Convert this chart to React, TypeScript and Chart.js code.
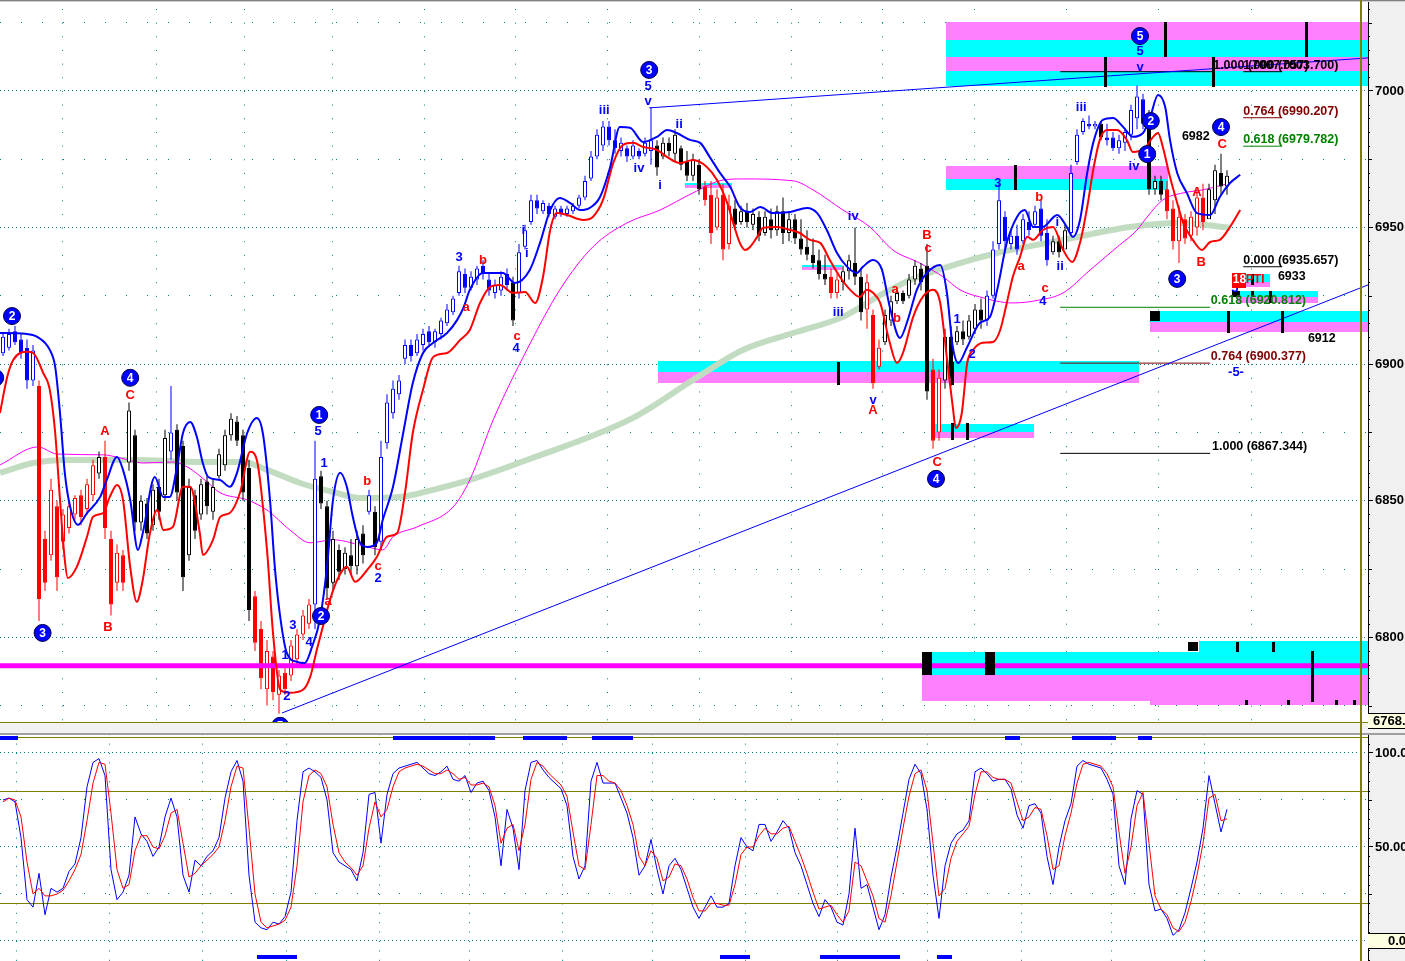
import React, { useEffect, useRef } from 'react';
import { Chart, registerables } from 'chart.js';
Chart.register(...registerables);

// ---------------- data ----------------
// candles, one per bar index 0..204
const candleHigh = [6911,6913,6914,6911,6909,6907,6894,6839,6858,6850,
 6847,6850,6852,6854,6858,6865,6868,6872,6839,6834,
 6832,6886,6876,6852,6851,6856,6858,6876,6892,6878,
 6872,6858,6854,6858,6859,6858,6869,6876,6882,6881,
 6876,6865,6817,6806,6799,6795,6788,6790,6799,6803,
 6810,6814,6872,6861,6850,6839,6834,6833,6836,6839,
 6841,6854,6848,6872,6889,6894,6896,6909,6909,6911,
 6913,6914,6913,6917,6922,6925,6936,6935,6934,6936,
 6938,6933,6931,6934,6935,6932,6944,6951,6962,6962,
 6960,6959,6958,6958,6958,6959,6962,6969,6978,6986,
 6989,6989,6986,6983,6980,6982,6979,6983,6994,6982,
 6983,6983,6986,6980,6978,6977,6975,6967,6967,6964,
 6966,6962,6960,6958,6959,6957,6956,6956,6957,6958,
 6961,6956,6955,6953,6949,6946,6942,6940,6935,6933,
 6936,6940,6950,6935,6933,6920,6909,6920,6925,6927,
 6927,6933,6938,6937,6944,6902,6898,6913,6914,6914,
 6916,6918,6922,6924,6927,6945,6966,6956,6949,6951,
 6955,6956,6958,6960,6953,6947,6947,6951,6973,6986,
 6990,6991,6989,6989,6988,6985,6984,6986,6995,7002,
 6999,6993,6969,6969,6967,6960,6958,6955,6956,6964,
 6966,6966,6973,6977,6971];
const candleLow = [6903,6905,6907,6902,6891,6892,6806,6817,6828,6817,
 6832,6838,6843,6841,6845,6850,6858,6836,6808,6817,
 6817,6861,6839,6839,6836,6839,6843,6850,6865,6850,
 6817,6828,6836,6843,6845,6843,6858,6861,6872,6870,
 6850,6806,6795,6781,6775,6777,6772,6779,6784,6790,
 6799,6803,6803,6847,6814,6817,6821,6823,6823,6823,
 6827,6845,6830,6832,6869,6880,6887,6900,6901,6903,
 6905,6907,6906,6909,6914,6918,6925,6926,6927,6929,
 6931,6925,6924,6925,6927,6914,6924,6942,6951,6955,
 6955,6954,6953,6954,6954,6955,6957,6960,6967,6975,
 6978,6980,6977,6976,6974,6975,6975,6976,6973,6969,
 6975,6976,6974,6971,6967,6967,6962,6958,6944,6949,
 6938,6942,6949,6951,6950,6949,6945,6947,6946,6947,
 6944,6945,6944,6940,6938,6935,6931,6929,6924,6924,
 6927,6931,6929,6916,6913,6891,6898,6907,6914,6922,
 6922,6924,6929,6927,6887,6869,6872,6891,6892,6907,
 6907,6909,6911,6913,6914,6924,6942,6942,6942,6940,
 6944,6947,6950,6945,6936,6940,6939,6944,6947,6973,
 6984,6986,6986,6982,6980,6978,6977,6978,6982,6986,
 6986,6962,6962,6960,6953,6942,6937,6944,6945,6947,
 6949,6955,6955,6962,6962];
const candleOpen = [6904,6906,6912,6909,6906,6894,6892,6836,6830,6848,
 6835,6840,6845,6852,6847,6852,6860,6866,6836,6820,
 6830,6864,6874,6842,6849,6841,6855,6852,6868,6876,
 6870,6830,6852,6845,6857,6846,6859,6863,6874,6879,
 6874,6862,6815,6803,6781,6793,6779,6787,6786,6792,
 6801,6805,6812,6859,6848,6820,6832,6825,6830,6826,
 6838,6846,6846,6835,6871,6882,6889,6902,6907,6904,
 6907,6912,6908,6911,6915,6919,6926,6933,6928,6931,
 6936,6931,6926,6927,6933,6930,6926,6943,6952,6960,
 6956,6958,6954,6957,6955,6956,6958,6961,6968,6976,
 6980,6987,6982,6978,6979,6976,6978,6977,6978,6980,
 6976,6981,6977,6979,6974,6969,6973,6965,6962,6950,
 6962,6944,6957,6952,6956,6951,6954,6948,6953,6949,
 6956,6948,6953,6946,6943,6940,6938,6933,6932,6926,
 6930,6934,6937,6932,6920,6918,6899,6908,6916,6923,
 6926,6925,6931,6935,6936,6898,6875,6894,6910,6908,
 6912,6910,6913,6920,6916,6925,6944,6954,6944,6947,
 6945,6952,6951,6957,6948,6941,6945,6942,6948,6974,
 6985,6988,6987,6988,6983,6983,6979,6981,6984,6990,
 6997,6990,6964,6967,6964,6957,6945,6953,6947,6950,
 6961,6953,6960,6970,6965];
const candleClose = [6910,6911,6908,6904,6894,6905,6814,6820,6854,6822,
 6845,6848,6851,6844,6856,6863,6866,6840,6812,6831,
 6820,6883,6842,6850,6838,6854,6846,6873,6875,6853,
 6822,6855,6839,6856,6848,6855,6867,6874,6880,6872,
 6853,6810,6798,6785,6795,6780,6786,6781,6797,6801,
 6808,6812,6858,6849,6818,6836,6824,6831,6826,6836,
 6830,6852,6833,6866,6886,6891,6894,6907,6903,6909,
 6911,6908,6912,6916,6920,6924,6934,6928,6932,6935,
 6933,6927,6929,6932,6929,6916,6941,6949,6960,6957,
 6959,6955,6957,6955,6957,6958,6961,6967,6976,6984,
 6987,6982,6979,6981,6976,6980,6976,6981,6982,6972,
 6981,6978,6984,6973,6969,6975,6964,6960,6948,6961,
 6942,6958,6951,6956,6952,6955,6947,6954,6949,6956,
 6948,6953,6946,6942,6940,6937,6933,6931,6926,6931,
 6934,6938,6932,6919,6930,6893,6906,6918,6923,6926,
 6923,6931,6936,6930,6890,6872,6895,6910,6895,6912,
 6909,6916,6920,6916,6925,6942,6960,6945,6947,6942,
 6953,6949,6956,6947,6938,6945,6941,6949,6970,6984,
 6989,6987,6988,6983,6982,6979,6982,6985,6993,6998,
 6988,6964,6967,6962,6956,6945,6954,6946,6954,6961,
 6952,6964,6971,6965,6969];
// colour of the candles, as runs: B blue, R red, K black
const candleColorRuns: [string, number][] = [['B',6],['R',10],['K',1],['R',4],['K',7],['B',1],['K',13],['R',10],['B',1],['K',8],['B',1],['K',1],['B',22],['K',1],['B',23],['K',8],['R',5],['K',16],['R',2],['K',4],['R',3],['K',8],['R',2],['K',7],['B',11],['K',3],['B',5],['K',1],['B',7],['K',3],['R',7],['K',4]];

// bands / averages: [bar index, price]
const blueBand: [number, number][] = [[-0.5,6911.4],[3.7,6911.1],[5.7,6910.0],[7.8,6905.2],[8.7,6899.0],[9.5,6882.1],[10.3,6860.2],[11.2,6847.7],[12.5,6841.2],[14.0,6845.5],[16.2,6851.4],[17.3,6857.6],[19.0,6866.0],[20.0,6861.3],[21.2,6850.3],[22.5,6832.0],[23.3,6838.2],[25.3,6858.7],[26.7,6851.4],[27.8,6851.4],[29.0,6862.4],[30.0,6874.8],[31.2,6878.8],[32.3,6873.4],[33.3,6863.8],[34.2,6858.7],[36.2,6857.6],[37.8,6855.1],[39.0,6860.2],[40.7,6874.8],[42.3,6880.3],[43.3,6874.8],[44.5,6850.3],[45.3,6825.8],[46.2,6807.5],[47.3,6794.3],[49.0,6791.0],[50.3,6790.6],[51.5,6796.5],[52.8,6806.4],[54.0,6825.8],[55.0,6850.3],[56.2,6860.2],[57.3,6855.1],[58.3,6844.1],[59.5,6834.6],[60.7,6833.1],[62.3,6834.6],[63.3,6843.0],[65.0,6855.1],[66.7,6874.8],[68.3,6893.1],[70.0,6904.1],[71.7,6907.8],[74.0,6911.4],[75.7,6916.2],[76.8,6921.0],[77.8,6927.2],[80.0,6933.4],[83.3,6933.4],[85.3,6929.7],[87.8,6934.5],[89.5,6944.4],[91.2,6956.4],[92.8,6960.8],[94.5,6959.0],[96.2,6956.4],[97.8,6957.2],[99.5,6961.2],[101.2,6972.2],[102.8,6986.8],[104.5,6986.5],[106.7,6981.3],[109.0,6983.2],[110.7,6985.7],[112.3,6984.6],[114.5,6982.1],[116.2,6981.0],[117.8,6975.8],[119.5,6970.0],[121.2,6964.9],[122.8,6957.5],[124.5,6955.7],[126.2,6957.5],[128.3,6955.3],[131.2,6955.7],[134.0,6957.2],[135.7,6955.3],[137.3,6949.1],[139.0,6940.7],[140.7,6935.6],[142.3,6933.4],[143.3,6935.6],[145.0,6938.1],[146.5,6934.5],[147.8,6920.9],[149.5,6909.6],[150.8,6916.2],[152.3,6927.2],[154.0,6933.4],[156.2,6936.3],[157.3,6926.4],[158.3,6906.3],[159.2,6900.4],[160.7,6906.3],[162.8,6915.1],[164.5,6917.3],[165.7,6927.2],[167.3,6944.4],[169.0,6953.9],[170.3,6956.4],[171.7,6950.2],[173.3,6950.2],[175.7,6954.6],[177.3,6950.2],[178.3,6946.6],[179.5,6952.8],[180.7,6970.0],[181.7,6981.0],[183.3,6989.4],[185.0,6990.1],[186.7,6986.8],[188.3,6983.2],[190.0,6984.6],[191.2,6990.5],[192.5,6998.5],[193.7,6994.1],[194.5,6982.1],[195.7,6970.0],[197.3,6962.7],[199.0,6955.3],[201.2,6954.6],[202.8,6961.2],[204.5,6966.3],[206.2,6969.3]];
const redBand: [number, number][] = [[-0.5,6882.1],[0.7,6895.3],[1.7,6901.5],[4.0,6904.5],[5.0,6904.1],[6.7,6896.8],[7.8,6890.6],[8.7,6874.8],[9.5,6850.3],[10.3,6828.3],[10.8,6821.7],[12.3,6825.8],[14.0,6836.8],[15.0,6844.1],[16.7,6845.5],[17.8,6851.4],[19.0,6855.8],[20.0,6850.3],[21.2,6825.8],[22.3,6813.0],[23.2,6819.9],[24.5,6838.2],[25.7,6846.6],[26.7,6839.3],[28.3,6840.4],[30.0,6855.1],[31.2,6855.1],[32.8,6838.2],[33.3,6830.2],[35.0,6835.7],[36.2,6844.1],[37.8,6845.5],[39.5,6852.9],[41.2,6867.9],[42.3,6864.9],[44.0,6832.0],[45.0,6801.6],[46.2,6780.8],[47.8,6779.7],[50.0,6780.8],[51.2,6785.5],[52.3,6795.4],[53.3,6803.8],[54.5,6813.7],[55.7,6821.0],[57.3,6825.8],[58.7,6820.3],[60.7,6824.7],[62.3,6829.4],[64.0,6836.8],[65.7,6838.2],[67.0,6852.9],[68.3,6874.8],[70.0,6890.6],[71.7,6902.6],[74.0,6904.1],[76.2,6908.9],[77.8,6912.5],[79.5,6922.4],[81.2,6928.3],[82.8,6929.0],[85.0,6926.1],[87.0,6926.4],[88.7,6922.4],[90.0,6931.9],[91.2,6949.1],[92.3,6955.3],[94.0,6954.6],[96.7,6952.8],[98.3,6953.9],[100.0,6960.1],[101.7,6973.6],[103.3,6980.2],[105.0,6981.0],[106.7,6979.5],[109.0,6978.4],[110.7,6975.8],[112.8,6973.6],[115.0,6974.7],[117.3,6972.2],[119.0,6967.4],[120.7,6959.0],[121.7,6951.7],[122.8,6944.4],[123.7,6941.8],[124.5,6942.9],[125.7,6946.6],[126.7,6949.9],[129.0,6950.2],[131.2,6949.1],[132.8,6948.0],[134.5,6945.5],[136.2,6944.4],[137.8,6938.1],[139.5,6931.9],[141.2,6927.2],[142.8,6924.6],[144.0,6927.2],[145.0,6926.1],[146.2,6922.4],[147.8,6907.8],[149.0,6900.4],[150.0,6904.1],[151.7,6917.3],[153.3,6924.6],[155.0,6927.2],[156.2,6922.4],[157.3,6902.6],[158.3,6884.3],[158.8,6876.6],[159.8,6882.1],[160.7,6900.4],[161.7,6905.2],[163.3,6907.8],[165.0,6908.1],[166.2,6912.5],[167.3,6922.4],[168.3,6931.9],[169.5,6939.2],[170.7,6946.6],[171.7,6945.5],[173.3,6949.1],[175.0,6950.2],[176.7,6941.8],[178.2,6937.4],[179.5,6944.4],[180.7,6957.5],[181.7,6971.1],[182.8,6982.1],[184.0,6985.7],[185.7,6985.7],[187.3,6982.1],[188.3,6977.7],[190.0,6978.4],[191.7,6983.2],[192.5,6984.6],[193.3,6979.5],[194.5,6968.5],[195.7,6959.0],[196.7,6951.7],[198.3,6945.5],[199.8,6941.8],[201.2,6944.7],[202.8,6945.5],[204.5,6950.2],[206.2,6956.4]];
const magentaAvg: [number, number][] = [[-0.5,6863.1],[5.8,6869.7],[9.0,6867.1],[16.7,6866.8],[19.5,6865.7],[23.3,6863.8],[28.3,6864.2],[30.7,6862.4],[34.0,6856.9],[36.2,6852.9],[40.7,6850.3],[44.0,6846.6],[47.8,6839.3],[51.2,6834.6],[55.0,6835.7],[60.7,6833.1],[63.3,6832.0],[65.0,6836.8],[69.0,6840.4],[75.0,6847.7],[77.8,6857.6],[81.7,6879.6],[87.3,6905.2],[92.8,6927.2],[98.3,6942.9],[104.0,6951.7],[109.5,6956.4],[115.0,6962.7],[120.0,6967.4],[123.3,6967.8],[131.7,6967.1],[135.0,6963.8],[140.0,6956.4],[144.5,6950.2],[148.3,6941.8],[152.8,6937.0],[156.7,6931.9],[159.5,6927.2],[162.8,6924.6],[168.3,6922.4],[172.8,6923.5],[176.7,6926.1],[181.2,6934.5],[185.7,6942.9],[189.0,6949.1],[190.7,6953.9],[193.3,6960.1],[196.7,6962.7],[200.0,6963.8],[203.3,6965.6],[204.5,6966.3]];
const greenAvg: [number, number][] = [[-0.5,6860.2],[5.0,6863.8],[10.7,6864.9],[21.7,6864.9],[32.8,6864.2],[40.0,6864.2],[44.0,6861.3],[49.5,6856.5],[55.0,6853.2],[59.5,6851.0],[66.2,6851.4],[71.7,6854.0],[77.8,6857.6],[87.3,6864.9],[105.0,6880.3],[115.0,6894.2],[123.3,6905.2],[131.7,6911.4],[140.0,6917.3],[145.7,6924.6],[151.2,6930.8],[159.5,6937.0],[165.7,6940.7],[176.7,6945.5],[187.8,6950.2],[196.2,6951.7],[204.5,6949.9]];
const supportLevel: [number, number][] = [[-0.5,6789.6],[227.5,6789.6]];
const trendUpper: [number, number][] = [[107.7,6993.8],[227.5,7012.1]];
const trendLower: [number, number][] = [[46.5,6772.3],[227.5,6929.0]];

// stochastic (%K blue, %D red), one per bar
const stochK = [75,76,74,55,22,18,36,14,28,26, 28,37,41,55,82,95,97,88,38,22, 26,35,66,57,53,45,50,66,76,66, 35,26,43,40,45,48,55,76,90,96, 85,35,10,7,6,10,9,13,26,64, 90,92,90,87,75,47,42,40,38,32, 47,78,79,52,78,89,92,93,94,95, 92,89,88,90,93,86,85,88,79,84, 85,80,66,40,70,60,38,80,95,96, 91,87,84,81,72,45,33,40,85,95, 84,84,84,76,68,55,35,40,54,38, 25,40,44,38,28,18,12,18,24,18, 18,20,40,55,50,48,62,62,53,58, 64,60,47,40,30,20,13,22,18,10, 8.5,25,60,28,30,18,6,14,34,50, 68,86,94,89,70,35,12,40,52,57, 59,64,90,92,89,85,86,86,81,67, 60,72,73,68,45,30,50,64,73,93, 96,94,93,92,86,78,40,30,65,80, 78,30,16,17,12,3,6,15,28,42, 60,88,73,58,70];
const stochD = [74,76,75,66,42,25,28,24,24,25, 27,32,38,46,64,84,95,94,68,38, 28,30,48,56,56,50,49,56,68,70, 52,34,36,40,43,46,50,64,82,93, 92,60,25,10,7,8,9,11,18,40, 74,88,91,89,82,62,47,42,39,35, 40,60,74,66,70,82,90,92,93,94, 93,91,89,89,91,89,86,87,83,83, 84,82,72,52,60,62,48,62,86,95, 93,89,86,83,77,58,40,38,62,88, 88,85,84,80,72,62,45,40,48,44, 32,34,41,40,33,23,16,16,20,20, 19,19,30,46,50,50,56,60,57,57, 60,61,53,45,36,26,17,18,19,14, 10,16,42,40,32,24,12,10,24,42, 60,77,89,91,80,52,24,28,44,53, 57,61,78,90,90,87,86,86,84,74, 64,66,71,70,56,38,40,56,68,84, 94,95,94,93,89,82,58,36,50,72, 79,52,24,17,14,7,5,10,21,35, 52,76,78,64,65];

// axis labels
const priceTickLabels = [6800, 6850, 6900, 6950, 7000];
const stochTickLabels: [number, string][] = [[100, '100.0'], [50, '50.00']];
const lastPriceLabel = '6768.';
const lastStochLabel = '0.0';
// vertical grid columns (bar index)
const gridColumns = [2.17, 17.67, 33.33, 47.17, 62.67, 77.67, 93.17, 108.33, 123.83, 139.0, 154.0, 169.83, 184.83, 200.33];

// zone bands: [fromBar, toBar, topPrice, bottomPrice, C=cyan / M=magenta]
const zoneBands: [number, number, number, number, string][] = [
  [157.2,227.5,7025.2,7018.7,'M'],[157.2,227.5,7018.7,7012.4,'C'],[157.2,227.5,7012.4,7007.3,'M'],[157.2,227.5,7007.3,7001.8,'C'],
  [157.2,194.2,6972.5,6967.8,'M'],[157.2,194.2,6967.8,6963.8,'C'],
  [113.7,121.5,6966.3,6965.4,'C'],[113.7,121.5,6965.4,6964.5,'M'],
  [133.2,139.8,6936.3,6935.4,'C'],[133.2,139.8,6935.4,6934.5,'M'],
  [109.2,189.3,6901.2,6897.1,'C'],[109.2,189.3,6897.1,6893.1,'M'],
  [155.3,171.8,6878.1,6875.2,'C'],[155.3,171.8,6875.2,6873.0,'M'],
  [191.2,227.5,6919.5,6915.4,'C'],[191.2,227.5,6915.4,6911.8,'M'],
  [204.8,211.2,6932.9,6930.1,'C'],[204.8,211.2,6930.1,6928.3,'M'],
  [205.8,219.2,6926.8,6924.6,'C'],[205.8,219.2,6924.6,6922.4,'M'],
  [199.3,227.5,6798.7,6794.7,'C'],[153.2,227.5,6794.7,6790.3,'C'],[153.2,227.5,6788.8,6786.2,'C'],[153.2,227.5,6786.2,6776.7,'M'],[191.2,227.5,6776.7,6775.3,'M'],
];
// black marks: [bar, topPrice, bottomPrice, widthPx]
const zoneMarks: [number, number, number, number][] = [
  [183.7,7012.4,7001.5,3],[193.7,7025.2,7012.4,3],[201.7,7012.4,7001.5,3],[217.2,7025.2,7012.4,3],
  [168.7,6972.9,6963.8,3],[139.2,6900.8,6892.4,3],[158.3,6900.8,6892.4,3],
  [158.3,6878.5,6872.3,3],[160.7,6878.5,6872.3,3],
  [204.2,6919.5,6911.4,3],[213.2,6919.5,6911.4,3],
  [208.3,6932.9,6928.9,3],[208.3,6926.8,6924.6,3],[211.2,6926.8,6922.4,3],
  [205.8,6798.3,6794.7,3],[211.7,6798.3,6794.7,3],[218.2,6795.0,6776.4,3],
  [192.0,6919.5,6915.8,10],[154.0,6794.7,6786.2,10],[164.5,6794.7,6786.2,10],[198.3,6798.3,6795.0,10],
  [205.5,6926.8,6924.6,8],[205.5,6932.9,6930.7,8],
  [207.2,6777.1,6775.3,3],[214.2,6777.1,6775.3,3],[222.2,6777.1,6775.3,3],[225.2,6777.1,6775.3,3],
];
// fibonacci levels
const fibLevels = [
  { text: '1.000 (6867.344)', price: 6867.344, color: '#000000', from: 176.2, to: 201.2, textAt: 201.5 },
  { text: '0.764 (6900.377)', price: 6900.377, color: '#800000', from: 176.2, to: 201.2, textAt: 201.3 },
  { text: '0.618 (6920.812)', price: 6920.812, color: '#008000', from: 176.2, to: 201.2, textAt: 201.3 },
  { text: '1.000 (7007.057)', price: 7007.057, color: '#000000', from: 176.2, to: 201.7, textAt: 201.7 },
  { text: '1.000 (7003.700)', price: 7007.057, color: '#000000', from: 206.7, to: 213.2, textAt: 206.7 },
  { text: '0.000 (6935.657)', price: 6935.657, color: '#000000', from: 206.7, to: 213.2, textAt: 206.7 },
  { text: '0.618 (6979.782)', price: 6979.782, color: '#008000', from: 206.7, to: 213.2, textAt: 206.7 },
  { text: '0.764 (6990.207)', price: 6990.207, color: '#800000', from: 206.7, to: 213.2, textAt: 206.7 },
];
// wave labels: [text, bar, price, R red / U blue / K black]
const waveLabels: [string, number, number, string][] = [
  ['A',17.0,6875.2,'R'],['B',17.5,6803.5,'R'],['C',21.2,6888.7,'R'],
  ['a',54.2,6813.0,'R'],['b',60.7,6856.9,'R'],['c',62.5,6825.8,'R'],
  ['a',77.2,6920.9,'R'],['b',80.0,6938.1,'R'],['c',85.7,6910.0,'R'],
  ['a',148.7,6927.2,'R'],['b',149.0,6916.9,'R'],['B',154.0,6947.3,'R'],['c',154.2,6942.2,'R'],
  ['A',145.0,6882.9,'R'],['C',155.7,6863.9,'R'],
  ['b',172.7,6961.2,'R'],['a',169.7,6935.6,'R'],['c',173.7,6927.9,'R'],
  ['A',199.0,6962.7,'R'],['B',199.7,6937.4,'R'],['C',203.2,6980.6,'R'],
  ['5',52.5,6875.2,'U'],['1',53.5,6863.8,'U'],['3',48.3,6804.2,'U'],['4',51.0,6798.0,'U'],['1',47.0,6793.2,'U'],['2',47.3,6778.2,'U'],['2',62.5,6821.4,'U'],
  ['3',76.0,6939.2,'U'],['i',86.7,6949.1,'U'],['i',87.3,6940.7,'U'],['4',85.5,6905.6,'U'],
  ['iii',100.2,6992.7,'U'],['iv',106.0,6971.8,'U'],['5',107.5,7001.5,'U'],['v',107.5,6996.3,'U'],['i',109.5,6965.6,'U'],['ii',112.7,6987.6,'U'],
  ['iv',141.7,6953.9,'U'],['iii',139.2,6919.1,'U'],['v',145.0,6886.9,'U'],
  ['1',159.0,6916.2,'U'],['2',161.5,6903.4,'U'],['3',165.8,6966.3,'U'],['i',175.7,6951.7,'U'],['ii',176.2,6935.6,'U'],['4',173.3,6922.8,'U'],
  ['iii',179.7,6993.8,'U'],['iv',188.5,6972.5,'U'],['5',189.5,7014.3,'U'],['v',189.5,7008.8,'U'],
  ['-5-',205.5,6897.1,'U'],['5',205.3,6927.9,'U'],
  ['6982',198.8,6983.2,'K'],['6933',214.8,6931.9,'K'],['6912',219.8,6909.2,'K'],
];
// circled wave degree labels: [digit, bar, price]
const waveCircles: [string, number, number][] = [
  ['2',1.5,6917.6],['3',6.6,6801.6],['4',21.2,6895.0],['1',52.7,6881.4],['2',53.0,6807.8],['5',46.2,6767.6],
  ['3',107.7,7007.7],['5',189.5,7020.1],['2',191.3,6989.0],['1',190.7,6976.9],['4',155.5,6858.0],['3',195.7,6931.2],['4',203.0,6986.8],['1',-1.3,6895.0],
];
// blue signal markers in the oscillator pane: [fromBar, toBar]
const markersTop: [number, number][] = [[-0.5,2.5],[65,82],[86.7,94],[98.2,105],[167,169.5],[178.2,185.5],[189.2,191.5]];
const markersBottom: [number, number][] = [[42.3,49],[119.5,124.5],[136.2,149.5],[155.7,158.2]];
const currentBar = 226.33;

// ---------------- styling ----------------
const FONT = '"Liberation Sans", Arial, sans-serif';
const TEAL = '#008080';
const OLIVE = '#808000';
const AXIS_W = 37;
const COLORS: Record<string, string> = { B: '#0000ff', R: '#ff0000', K: '#000000', U: '#0000ff' };

function expandRuns(): string[] {
  const out: string[] = [];
  candleColorRuns.forEach(([c, n]) => { for (let k = 0; k < n; k++) out.push(COLORS[c]); });
  return out;
}

function toXY(arr: [number, number][]) { return arr.map(([x, y]) => ({ x, y })); }

function drawAxisMinor(chart: any, step: number, minV: number, maxV: number) {
  const { ctx, chartArea: a, scales } = chart;
  ctx.save();
  ctx.fillStyle = '#000';
  for (let v = Math.ceil(minV / step) * step; v <= maxV; v += step) {
    const y = Math.round(scales.y.getPixelForValue(v));
    if (y < a.top || y > a.bottom) continue;
    if (Math.abs(v % 50) < 1e-6) continue;
    const len = Math.abs(v % 25) < 1e-6 ? 3 : 1;
    ctx.fillRect(a.right + 1, y, len, 1);
  }
  ctx.restore();
}

const topDecor = {
  id: 'topDecor',
  beforeDraw(chart: any) {
    const { ctx, chartArea: a } = chart;
    ctx.save();
    ctx.fillStyle = '#ffffff';
    ctx.fillRect(0, 0, chart.width, chart.height);
    ctx.fillStyle = '#f0f0f0';
    ctx.fillRect(a.right, 0, chart.width - a.right, a.bottom);
    ctx.restore();
  },
  beforeDatasetsDraw(chart: any) {
    const { ctx, chartArea: a, scales } = chart;
    const X = (v: number) => scales.x.getPixelForValue(v);
    const Y = (v: number) => scales.y.getPixelForValue(v);
    ctx.save();
    ctx.beginPath(); ctx.rect(a.left, a.top, a.right - a.left, a.bottom - a.top); ctx.clip();
    zoneBands.forEach(([x0, x1, p0, p1, c]) => {
      ctx.fillStyle = c === 'C' ? '#00ffff' : '#ff80ff';
      const l = Math.round(X(x0)), r = Math.round(X(x1));
      const t = Math.round(Y(p0)), b = Math.round(Y(p1));
      ctx.fillRect(l, t, r - l, b - t);
    });
    ctx.restore();
  },
  afterDatasetsDraw(chart: any) {
    const { ctx, chartArea: a, scales } = chart;
    const X = (v: number) => scales.x.getPixelForValue(v);
    const Y = (v: number) => scales.y.getPixelForValue(v);
    ctx.save();
    ctx.beginPath(); ctx.rect(a.left, a.top, a.right - a.left, a.bottom - a.top); ctx.clip();
    ctx.fillStyle = '#000';
    zoneMarks.forEach(([x, p0, p1, w]) => {
      const t = Math.round(Y(p0)), b = Math.round(Y(p1));
      ctx.fillRect(Math.round(X(x) - w / 2), t, w, b - t);
    });
    ctx.restore();
  },
  afterDraw(chart: any) {
    const { ctx, chartArea: a, scales } = chart;
    const X = (v: number) => scales.x.getPixelForValue(v);
    const Y = (v: number) => scales.y.getPixelForValue(v);
    ctx.save();
    ctx.beginPath(); ctx.rect(a.left, a.top, a.right - a.left, a.bottom - a.top); ctx.clip();
    // fib texts
    ctx.font = `bold 12.5px ${FONT}`;
    ctx.textAlign = 'left';
    ctx.textBaseline = 'alphabetic';
    fibLevels.forEach((f) => {
      ctx.fillStyle = f.color;
      ctx.fillText(f.text, X(f.textAt), Math.round(Y(f.price)) - 3);
    });
    // wave labels
    ctx.textAlign = 'center';
    ctx.textBaseline = 'middle';
    waveLabels.forEach(([t, x, p, c]) => {
      ctx.font = c === 'K' ? `bold 12.5px ${FONT}` : `bold 13px ${FONT}`;
      ctx.fillStyle = COLORS[c];
      ctx.fillText(t, X(x), Y(p));
    });
    // 18PTI tag
    ctx.fillStyle = '#ff0000';
    ctx.fillRect(Math.round(X(204.8)), Math.round(Y(6933.5)), 14, 15);
    ctx.font = `bold 12px ${FONT}`;
    ctx.fillStyle = '#ffffff';
    ctx.textAlign = 'left';
    ctx.fillText('18', X(204.8) + 1, Y(6930.8));
    ctx.fillStyle = '#ff0000';
    ctx.fillText('PTI', X(204.8) + 14, Y(6930.8));
    // circles
    waveCircles.forEach(([d, x, p]) => {
      const cx = X(x), cy = Y(p);
      ctx.beginPath();
      ctx.arc(cx, cy, 8.5, 0, Math.PI * 2);
      ctx.fillStyle = '#0000ff';
      ctx.fill();
      ctx.lineWidth = 1;
      ctx.strokeStyle = '#000040';
      ctx.stroke();
      ctx.fillStyle = '#ffffff';
      ctx.font = `bold 12px ${FONT}`;
      ctx.textAlign = 'center';
      ctx.fillText(d, cx, cy + 0.5);
    });
    ctx.restore();

    ctx.save();
    // top border
    ctx.fillStyle = '#808080';
    ctx.fillRect(0, 0, chart.width, 1);
    ctx.fillStyle = '#d0d0d0';
    ctx.fillRect(0, 1, chart.width, 1);
    // separator
    ctx.fillStyle = OLIVE;
    ctx.fillRect(0, a.bottom, a.right, 1);
    ctx.fillStyle = '#f2f2f2';
    ctx.fillRect(0, a.bottom + 1, chart.width, 10);
    ctx.fillStyle = '#a0a0a0';
    ctx.fillRect(0, a.bottom + 11, chart.width, 2);
    // current-bar line
    ctx.fillStyle = OLIVE;
    ctx.fillRect(Math.round(X(currentBar)) - 1, 0, 2, chart.height);
    ctx.restore();

    drawAxisMinor(chart, 5, 6765, 7035);

    // last price box
    ctx.save();
    ctx.fillStyle = '#ffffe1';
    ctx.fillRect(a.right, a.bottom - 9, AXIS_W, 15);
    ctx.fillStyle = '#000';
    ctx.fillRect(a.right, a.bottom - 9, AXIS_W, 1);
    ctx.fillRect(a.right, a.bottom + 6, AXIS_W, 1);
    ctx.font = `bold 13px ${FONT}`;
    ctx.textAlign = 'left';
    ctx.textBaseline = 'middle';
    ctx.fillText(lastPriceLabel, a.right + 5, a.bottom - 1);
    ctx.restore();
  },
};

const botDecor = {
  id: 'botDecor',
  beforeDraw(chart: any) {
    const { ctx, chartArea: a } = chart;
    ctx.save();
    ctx.fillStyle = '#ffffff';
    ctx.fillRect(0, 0, chart.width, chart.height);
    ctx.fillStyle = '#f0f0f0';
    ctx.fillRect(a.right, 0, chart.width - a.right, chart.height);
    ctx.restore();
  },
  beforeDatasetsDraw(chart: any) {
    const { ctx, chartArea: a, scales } = chart;
    const X = (v: number) => scales.x.getPixelForValue(v);
    const Y = (v: number) => scales.y.getPixelForValue(v);
    ctx.save();
    ctx.fillStyle = OLIVE;
    [80, 20].forEach((v) => ctx.fillRect(a.left, Math.round(Y(v)), a.right - a.left, 1));
    ctx.fillRect(a.left, a.top + 2, a.right - a.left, 1);
    ctx.fillStyle = '#0000ff';
    markersTop.forEach(([x0, x1]) => {
      const l = Math.max(a.left, Math.round(X(x0)));
      ctx.fillRect(l, a.top + 1, Math.round(X(x1)) - l, 4);
    });
    markersBottom.forEach(([x0, x1]) => {
      ctx.fillRect(Math.round(X(x0)), a.bottom - 6, Math.round(X(x1)) - Math.round(X(x0)), 4);
    });
    ctx.restore();
  },
  afterDraw(chart: any) {
    const { ctx, chartArea: a, scales } = chart;
    const X = (v: number) => scales.x.getPixelForValue(v);
    const Y = (v: number) => scales.y.getPixelForValue(v);
    ctx.save();
    ctx.fillStyle = OLIVE;
    ctx.fillRect(Math.round(X(currentBar)) - 1, 0, 2, chart.height);
    ctx.restore();
    drawAxisMinor(chart, 5, -10, 110);
    ctx.save();
    const y0 = Math.round(Y(0));
    ctx.fillStyle = '#ffffe1';
    ctx.fillRect(a.right, y0 - 8, AXIS_W, 15);
    ctx.fillStyle = '#000';
    ctx.fillRect(a.right, y0 - 8, AXIS_W, 1);
    ctx.fillRect(a.right, y0 + 7, AXIS_W, 1);
    ctx.font = `bold 13px ${FONT}`;
    ctx.textAlign = 'left';
    ctx.textBaseline = 'middle';
    ctx.fillText(lastStochLabel, a.right + 20, y0);
    ctx.restore();
  },
};

function isMult(v: number, m: number) { return Math.abs(v % m) < 1e-6; }

function topConfig(): any {
  const cols = expandRuns();
  const bars = candleHigh.map((_, i) => i);
  const lineDs = (data: [number, number][], color: string, width: number, order: number, tension = 0) => ({
    type: 'line', data: toXY(data), borderColor: color, borderWidth: width, pointRadius: 0,
    tension, cubicInterpolationMode: tension ? 'monotone' : 'default', order, fill: false,
  });
  const fibDs = fibLevels.map((f) => lineDs([[f.from, f.price], [f.to, f.price]], f.color, 1, 0));
  return {
    type: 'line',
    data: {
      datasets: [
        lineDs(trendUpper, '#0000ff', 1, 0),
        lineDs(trendLower, '#0000ff', 1, 0),
        ...fibDs,
        lineDs(blueBand, '#0000ff', 2, 1, 0.4),
        lineDs(redBand, '#ff0000', 2, 2, 0.4),
        lineDs(supportLevel, '#ff00ff', 5, 3),
        {
          type: 'bar', order: 4, grouped: false, barThickness: 4, borderWidth: 1, borderSkipped: false, inflateAmount: 0,
          data: bars.map((i) => ({ x: i, y: [Math.min(candleOpen[i], candleClose[i]), Math.max(candleOpen[i], candleClose[i])] })),
          backgroundColor: (c: any) => (c.dataIndex !== undefined && candleClose[c.dataIndex] > candleOpen[c.dataIndex] ? '#ffffff' : cols[c.dataIndex] || '#000'),
          borderColor: (c: any) => cols[c.dataIndex] || '#000',
        },
        {
          type: 'bar', order: 5, grouped: false, barThickness: 1, borderWidth: 0, inflateAmount: 0,
          data: bars.map((i) => ({ x: i, y: [candleLow[i], candleHigh[i]] })),
          backgroundColor: (c: any) => cols[c.dataIndex] || '#000',
        },
        lineDs(magentaAvg, '#ff00ff', 1, 6, 0.4),
        lineDs(greenAvg, '#c2dcc2', 6, 7, 0.4),
      ],
    },
    options: {
      animation: false, responsive: false, maintainAspectRatio: false, events: [],
      layout: { padding: { left: 0, right: 0, top: 0, bottom: 13 } },
      plugins: { legend: { display: false }, tooltip: { enabled: false } },
      scales: {
        x: {
          type: 'linear', min: -0.5, max: 227.5, offset: false,
          afterBuildTicks: (s: any) => { s.ticks = gridColumns.map((v) => ({ value: v })); },
          ticks: { display: false },
          grid: { color: TEAL, lineWidth: 1, drawTicks: false },
          border: { display: false, dash: [1, 12.66], dashOffset: 4.66 },
        },
        y: {
          type: 'linear', position: 'right', min: 6769.0, max: 7033.3,
          afterBuildTicks: (s: any) => { const t: any[] = []; for (let v = 6770; v <= 7030; v += 5) t.push({ value: v }); s.ticks = t; },
          afterFit: (s: any) => { s.width = AXIS_W; s.paddingTop = 0; s.paddingBottom = 0; },
          ticks: {
            autoSkip: false, padding: 2, color: '#000', font: { family: FONT, size: 13, weight: 'bold' },
            callback: (v: number) => (priceTickLabels.includes(v) ? String(v) : ''),
          },
          grid: {
            lineWidth: 1, drawTicks: true, tickLength: 5,
            color: (c: any) => (c.tick && (isMult(c.tick.value, 25)) ? TEAL : 'rgba(0,0,0,0)'),
            tickColor: (c: any) => (c.tick && isMult(c.tick.value, 50) ? '#000' : 'rgba(0,0,0,0)'),
          },
          border: {
            display: true, color: '#000', width: 1,
            dash: (c: any) => (c.tick && isMult(c.tick.value, 50) ? [1, 3] : [1, 20]),
          },
        },
      },
    },
    plugins: [topDecor],
  };
}

function botConfig(): any {
  const bars = stochK.map((_, i) => i);
  return {
    type: 'line',
    data: {
      datasets: [
        { data: bars.map((i) => ({ x: i, y: stochD[i] })), borderColor: '#ff0000', borderWidth: 1, pointRadius: 0, tension: 0, order: 0 },
        { data: bars.map((i) => ({ x: i, y: stochK[i] })), borderColor: '#0000ff', borderWidth: 1, pointRadius: 0, tension: 0, order: 1 },
      ],
    },
    options: {
      animation: false, responsive: false, maintainAspectRatio: false, events: [],
      layout: { padding: 0 },
      plugins: { legend: { display: false }, tooltip: { enabled: false } },
      scales: {
        x: {
          type: 'linear', min: -0.5, max: 227.5, offset: false,
          afterBuildTicks: (s: any) => { s.ticks = gridColumns.map((v) => ({ value: v })); },
          ticks: { display: false },
          grid: { color: TEAL, lineWidth: 1, drawTicks: false },
          border: { display: false, dash: [1, 8.4], dashOffset: 0.8 },
        },
        y: {
          type: 'linear', position: 'right', min: -10.64, max: 109.57,
          afterBuildTicks: (s: any) => { const t: any[] = []; for (let v = -10; v <= 105; v += 5) t.push({ value: v }); s.ticks = t; },
          afterFit: (s: any) => { s.width = AXIS_W; s.paddingTop = 0; s.paddingBottom = 0; },
          ticks: {
            autoSkip: false, padding: 2, color: '#000', font: { family: FONT, size: 13, weight: 'bold' },
            callback: (v: number) => { const f = stochTickLabels.find(([k]) => k === v); return f ? f[1] : ''; },
          },
          grid: {
            lineWidth: 1, drawTicks: true, tickLength: 5,
            color: (c: any) => (c.tick && isMult(c.tick.value, 25) && c.tick.value >= 0 && c.tick.value <= 100 ? TEAL : 'rgba(0,0,0,0)'),
            tickColor: (c: any) => (c.tick && (c.tick.value === 100 || c.tick.value === 50) ? '#000' : 'rgba(0,0,0,0)'),
          },
          border: {
            display: true, color: '#000', width: 1,
            dash: (c: any) => (c.tick && isMult(c.tick.value, 50) ? [1, 3] : [1, 20]),
          },
        },
      },
    },
    plugins: [botDecor],
  };
}

export default function App() {
  const topRef = useRef<HTMLCanvasElement>(null);
  const botRef = useRef<HTMLCanvasElement>(null);
  useEffect(() => {
    document.body.style.margin = '0';
    const c1 = new Chart(topRef.current as HTMLCanvasElement, topConfig());
    const c2 = new Chart(botRef.current as HTMLCanvasElement, botConfig());
    return () => { c1.destroy(); c2.destroy(); };
  }, []);
  return (
    <div style={{ position: 'fixed', left: 0, top: 0, width: 1405, height: 961, background: '#ffffff', overflow: 'hidden' }}>
      <canvas ref={topRef} width={1405} height={735} style={{ position: 'absolute', left: 0, top: 0, width: 1405, height: 735 }} />
      <canvas ref={botRef} width={1405} height={226} style={{ position: 'absolute', left: 0, top: 735, width: 1405, height: 226 }} />
    </div>
  );
}
